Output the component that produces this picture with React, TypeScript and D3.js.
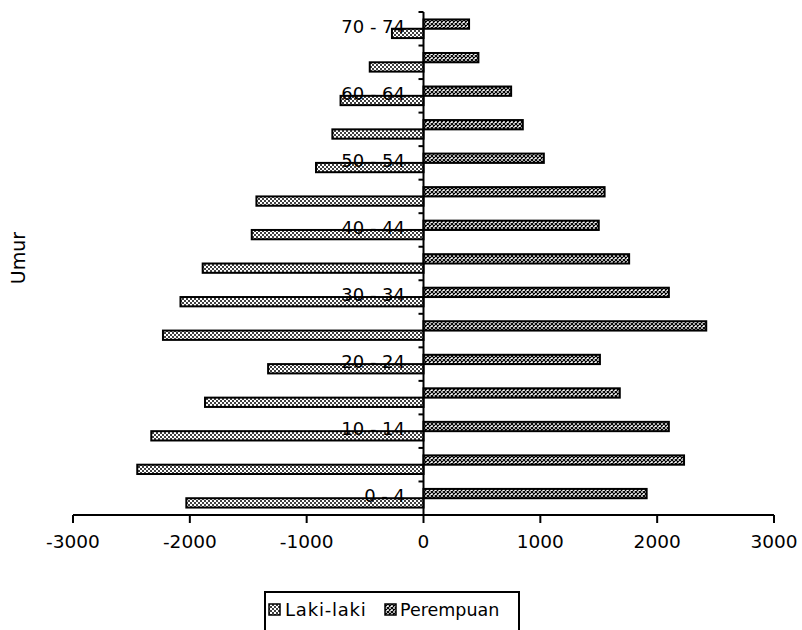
import * as d3 from "d3";

// age groups, bottom to top
const groups = [
  "0 - 4", "5 - 9", "10 - 14", "15 - 19", "20 - 24", "25 - 29", "30 - 34",
  "35 - 39", "40 - 44", "45 - 49", "50 - 54", "55 - 59", "60 - 64", "65 - 69", "70 - 74",
];
const lakiLaki = [
  -2030, -2450, -2330, -1870, -1330, -2230, -2080,
  -1890, -1470, -1430, -920, -780, -710, -460, -270,
];
const perempuan = [
  1910, 2230, 2100, 1680, 1510, 2420, 2100,
  1760, 1500, 1550, 1030, 850, 750, 470, 390,
];
const xTicks = [-3000, -2000, -1000, 0, 1000, 2000, 3000];
const labelled = ["0 - 4", "10 - 14", "20 - 24", "30 - 34", "40 - 44", "50 - 54", "60 - 64", "70 - 74"];
const series = ["Perempuan", "Laki-laki"];

const W = 802, H = 630;
const font = "'DejaVu Sans', 'Liberation Sans', Arial, sans-serif";

export default function App() {
  const x = d3.scaleLinear().domain([-3000, 3000]).range([73, 774]);
  const y = d3.scaleBand<string>().domain(groups.slice().reverse()).range([12, 515]);
  const sub = d3.scaleBand<string>().domain(series).range([0, y.bandwidth()]).paddingOuter(0.8);
  const x0 = x(0);
  const axisY = 515;

  const bars = groups.flatMap((g, i) => [
    { g, s: "Laki-laki", v: lakiLaki[i] },
    { g, s: "Perempuan", v: perempuan[i] },
  ]);

  return (
    <svg width={W} height={H} style={{ position: "absolute", left: 0, top: 0, background: "#fff" }}>
      <defs>
        <pattern id="pLaki" patternUnits="userSpaceOnUse" width={4} height={4}>
          <rect width={4} height={4} fill="#fff" />
          <circle cx={1} cy={1} r={1} fill="#000" />
          <circle cx={3} cy={3} r={1} fill="#000" />
        </pattern>
        <pattern id="pPer" patternUnits="userSpaceOnUse" width={4} height={4}>
          <rect width={4} height={4} fill="#fff" />
          <path d="M0,0L4,4M4,0L0,4" stroke="#000" strokeWidth={1.2} />
        </pattern>
      </defs>

      {/* bars */}
      {bars.map((b, i) => {
        const yy = (y(b.g) ?? 0) + (sub(b.s) ?? 0);
        const xa = Math.min(x(b.v), x0), xb = Math.max(x(b.v), x0);
        return (
          <rect key={i} x={xa} y={yy} width={xb - xa} height={sub.bandwidth()}
            fill={b.s === "Laki-laki" ? "url(#pLaki)" : "url(#pPer)"} stroke="#000" strokeWidth={2} />
        );
      })}

      {/* category labels */}
      {labelled.map((g) => (
        <text key={g} x={405} y={(y(g) ?? 0) + y.bandwidth() / 2 + 4} textAnchor="end"
          fontSize={18} fontFamily={font} fill="#000">{g}</text>
      ))}

      {/* vertical axis */}
      <line x1={x0} x2={x0} y1={12} y2={axisY} stroke="#000" strokeWidth={2} />
      {groups.map((g) => (
        <line key={g} x1={x0 - 5} x2={x0} y1={y(g) ?? 0} y2={y(g) ?? 0} stroke="#000" strokeWidth={2} />
      ))}

      {/* horizontal axis */}
      <line x1={x(-3000)} x2={x(3000)} y1={axisY} y2={axisY} stroke="#000" strokeWidth={2} />
      {xTicks.map((t) => (
        <g key={t}>
          <line x1={x(t)} x2={x(t)} y1={axisY} y2={axisY + 8} stroke="#000" strokeWidth={2} />
          <text x={x(t)} y={548} textAnchor="middle" fontSize={18.5} fontFamily={font} fill="#000">{t}</text>
        </g>
      ))}

      {/* axis title */}
      <text transform="translate(25,258) rotate(-90)" textAnchor="middle" fontSize={19} fontFamily={font} fill="#000">Umur</text>

      {/* legend */}
      <rect x={265} y={592} width={254} height={50} fill="#fff" stroke="#000" strokeWidth={2} />
      <rect x={269} y={604} width={11} height={11} fill="url(#pLaki)" stroke="#000" strokeWidth={1.5} />
      <text x={285} y={616} fontSize={18} letterSpacing={0.8} fontFamily={font} fill="#000">Laki-laki</text>
      <rect x={385} y={604} width={11} height={11} fill="url(#pPer)" stroke="#000" strokeWidth={1.5} />
      <text x={400} y={616} fontSize={17.5} fontFamily={font} fill="#000">Perempuan</text>
    </svg>
  );
}
